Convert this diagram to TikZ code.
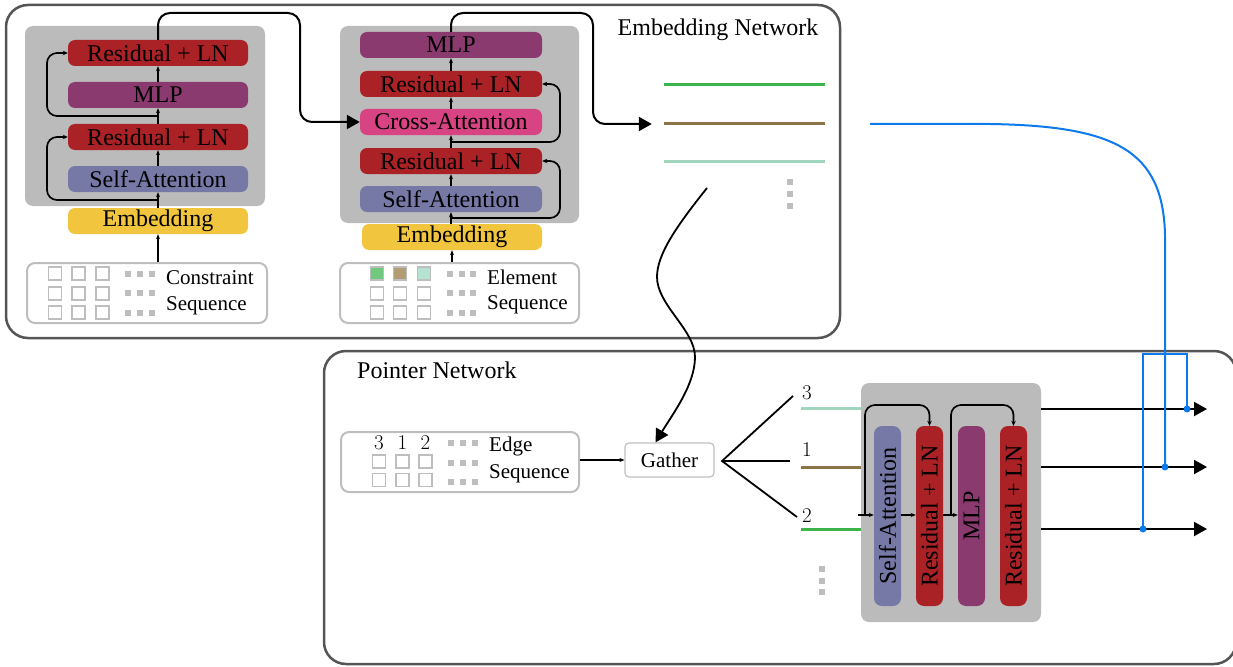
\documentclass[tikz,border=0pt]{standalone}
\usepackage{fontspec}
\usepackage{graphicx}
\setmainfont{Liberation Serif}
\usetikzlibrary{arrows.meta,calc}

\definecolor{resred}{RGB}{170,34,38}
\definecolor{mlppurple}{RGB}{139,58,111}
\definecolor{attblue}{RGB}{118,120,166}
\definecolor{embyellow}{RGB}{242,197,62}
\definecolor{crosspink}{RGB}{216,67,131}
\definecolor{blockgray}{RGB}{187,187,187}
\definecolor{framegray}{RGB}{85,85,85}
\definecolor{seqgray}{RGB}{190,190,190}
\definecolor{linkblue}{RGB}{12,121,236}
\definecolor{elgreen}{RGB}{60,180,75}
\definecolor{elbrown}{RGB}{140,116,72}
\definecolor{elmint}{RGB}{160,214,190}
\definecolor{sqgreen}{RGB}{111,202,125}
\definecolor{sqbrown}{RGB}{178,157,114}
\definecolor{sqmint}{RGB}{182,227,209}

\begin{document}
\begin{tikzpicture}[x=1pt,y=-1pt,
  lbl/.style={font=\fontsize{24}{26}\selectfont, inner sep=0},
  seqtxt/.style={font=\fontsize{21}{24}\selectfont, inner sep=0},
  digit/.style={font=\fontfamily{lmr}\fontsize{21}{24}\selectfont, inner sep=0},
  netframe/.style={draw=framegray, line width=2.5pt, rounded corners=22pt, inner sep=0},
  blockbg/.style={fill=blockgray, rounded corners=8pt, inner sep=0},
  layerbox/.style={rounded corners=7pt, inner sep=0, minimum width=180, minimum height=26, lbl},
  vlayerbox/.style={rounded corners=8pt, inner sep=0, minimum width=27, minimum height=180, lbl},
  seqframe/.style={draw=seqgray, line width=2pt, rounded corners=8pt, inner sep=0},
  cellsq/.style={draw=seqgray, line width=1.1pt, minimum size=13, inner sep=0},
  dotsq/.style={fill=seqgray, minimum size=6, inner sep=0},
  featline/.style={minimum width=161, minimum height=3, inner sep=0},
  thinlink/.style={line width=1.2pt, -{Stealth[length=5pt,width=4pt]}},
  skiplink/.style={line width=1.7pt, rounded corners=10pt, -{Stealth[length=5pt,width=4.5pt]}},
  flowlink/.style={line width=2pt, rounded corners=12pt, -{Triangle[length=13pt,width=14pt]}},
  bluelink/.style={draw=linkblue, line width=2pt}
]
\useasboundingbox (0,0) rectangle (1233,666);

% ---------- outer frames ----------
\node[netframe, minimum width=834, minimum height=333] (embnet) at (423,171.5) {};
\node[lbl] (embtitle) at (718,30) {Embedding Network};
\node[netframe, minimum width=912, minimum height=313] (ptrnet) at (780,507.5) {};
\node[lbl, anchor=west] (ptrtitle) at (357,370) {Pointer Network};

% ---------- constraint encoder ----------
\node[blockbg, minimum width=240, minimum height=180] (enc1) at (145,116) {};
\node[layerbox, fill=resred] (r1t) at (158,53) {Residual + LN};
\node[layerbox, fill=mlppurple] (mlp1) at (158,95) {MLP};
\node[layerbox, fill=resred] (r1b) at (158,137) {Residual + LN};
\node[layerbox, fill=attblue] (sa1) at (158,179) {Self-Attention};
\node[layerbox, fill=embyellow] (emb1) at (158,221) {Embedding};

\node[seqframe, minimum width=240, minimum height=60] (cseq) at (147,293) {};
\foreach \c/\x in {1/55,2/78.5,3/102.5}
  \foreach \r/\y in {1/273.5,2/293.5,3/312.5}
    \node[cellsq] (cc-\c-\r) at (\x,\y) {};
\foreach \c/\x in {1/128,2/140,3/152}
  \foreach \r/\y in {1/274,2/293,3/313}
    \node[dotsq] (cd-\c-\r) at (\x,\y) {};
\node[seqtxt, anchor=west] (ctxt1) at (166,278) {Constraint};
\node[seqtxt, anchor=west] (ctxt2) at (166,306) {Sequence};

\draw[thinlink] (emb1.south |- cseq.north) -- (emb1.south);
\draw[thinlink] (emb1.north) -- (sa1.south);
\draw[thinlink] (sa1.north) -- (r1b.south);
\draw[thinlink] (r1b.north) -- (mlp1.south);
\draw[thinlink] (mlp1.north) -- (r1t.south);
\coordinate (s1a) at ($(emb1.north)!0.5!(sa1.south)$);
\coordinate (s1b) at ($(r1b.north)!0.5!(mlp1.south)$);
\draw[skiplink] (s1a) -- (47,200) -- (47,137) -- (r1b.west);
\draw[skiplink] (s1b) -- (47,116) -- (47,53) -- (r1t.west);

% ---------- element encoder ----------
\node[blockbg, minimum width=239, minimum height=197] (enc2) at (459.5,124.5) {};
\node[layerbox, minimum width=182, fill=mlppurple] (mlp2) at (451,45) {MLP};
\node[layerbox, minimum width=182, fill=resred] (r2t) at (451,84) {Residual + LN};
\node[layerbox, minimum width=182, fill=crosspink] (ca) at (451,122) {Cross-Attention};
\node[layerbox, minimum width=182, fill=resred] (r2b) at (451,161) {Residual + LN};
\node[layerbox, minimum width=182, fill=attblue] (sa2) at (451,199) {Self-Attention};
\node[layerbox, fill=embyellow] (emb2) at (452,237) {Embedding};

\node[seqframe, minimum width=239, minimum height=60] (eseq) at (459.5,293) {};
\node[cellsq, fill=sqgreen] (ec-1-1) at (377,273.5) {};
\node[cellsq, fill=sqbrown] (ec-2-1) at (400,273.5) {};
\node[cellsq, fill=sqmint] (ec-3-1) at (424,273.5) {};
\foreach \c/\x in {1/377,2/400,3/424}
  \foreach \r/\y in {2/293.5,3/312.5}
    \node[cellsq] (ec-\c-\r) at (\x,\y) {};
\foreach \c/\x in {1/450,2/461.5,3/473}
  \foreach \r/\y in {1/274,2/293,3/313}
    \node[dotsq] (ed-\c-\r) at (\x,\y) {};
\node[seqtxt, anchor=west] (etxt1) at (487,277) {Element};
\node[seqtxt, anchor=west] (etxt2) at (487,305) {Sequence};

\draw[thinlink] (emb2.south |- eseq.north) -- (emb2.south);
\draw[thinlink] (sa2.south |- emb2.north) -- (sa2.south);
\draw[thinlink] (sa2.north) -- (r2b.south);
\draw[thinlink] (r2b.north) -- (ca.south);
\draw[thinlink] (ca.north) -- (r2t.south);
\draw[thinlink] (r2t.north) -- (mlp2.south);
\coordinate (s2a) at (451,218);
\coordinate (s2b) at (451,142);
\draw[skiplink] (s2a) -- (560,218) -- (560,161) -- (r2b.east);
\draw[skiplink] (s2b) -- (560,142) -- (560,84) -- (r2t.east);

% ---------- element features ----------
\node[featline, fill=elgreen] (fg) at (744.5,85) {};
\node[featline, fill=elbrown] (fb) at (744.5,124) {};
\node[featline, fill=elmint] (fm) at (744.5,161) {};
\foreach \i/\y in {1/182,2/194,3/206}
  \node[dotsq] (fd-\i) at (790,\y) {};

\draw[flowlink] (r1t.north) -- (158,13) -- (300,13) -- (300,122) -- (ca.west);
\draw[flowlink, shorten >=12pt] (mlp2.north) -- (451,13) -- (593,13) -- (593,124) -- (fb.west);

% ---------- edge sequence and gather ----------
\node[seqframe, minimum width=238, minimum height=60] (edseq) at (460,462) {};
\node[digit] (ed3) at (379,443) {3};
\node[digit] (ed1) at (402.5,443) {1};
\node[digit] (ed2) at (425.5,443) {2};
\foreach \c/\x in {1/379,2/402.5,3/425.5}
  \foreach \r/\y in {1/461.5,2/480}
    \node[cellsq] (gc-\c-\r) at (\x,\y) {};
\foreach \c/\x in {1/451,2/463,3/475}
  \foreach \r/\y in {1/443,2/463,3/482}
    \node[dotsq] (gd-\c-\r) at (\x,\y) {};
\node[seqtxt, anchor=west] (gtxt1) at (489,446) {Edge};
\node[seqtxt, anchor=west] (gtxt2) at (489,474) {Sequence};

\node[draw=seqgray, line width=1.2pt, rounded corners=4pt, minimum width=89,
      minimum height=34, seqtxt] (gather) at (669.5,460) {Gather};
\draw[thinlink] (edseq.east |- gather.west) -- (gather.west);

\coordinate (featout) at (707,188);
\draw[line width=1.8pt, -{Triangle[length=13pt,width=14pt]}]
  (featout) .. controls (675,228) and (657,255) .. (657,277)
  .. controls (657,305) and (695,330) .. (695,357)
  .. controls (695,385) and (672,415) .. ([xshift=-14]gather.north);

\coordinate (fan) at (722,461);
\coordinate (f3) at (793,396);
\coordinate (f1) at (790,461);
\coordinate (f2) at (797,517);
\draw[line width=1.8pt] (f3) -- (fan) -- (f2);
\draw[line width=1.8pt] (fan) -- (f1);

% ---------- gathered features ----------
\node[featline, minimum width=60, fill=elmint] (pm) at (831,408) {};
\node[featline, minimum width=60, fill=elbrown] (pb) at (831,467) {};
\node[featline, minimum width=60, fill=elgreen] (pg) at (831,529) {};
\node[digit] (pl3) at (807,393) {3};
\node[digit] (pl1) at (807,450) {1};
\node[digit] (pl2) at (807,516) {2};
\foreach \i/\y in {1/569,2/581,3/592}
  \node[dotsq] (pd-\i) at (822,\y) {};

% ---------- pointer transformer block ----------
\node[blockbg, minimum width=180, minimum height=239] (enc3) at (951,502.5) {};
\node[vlayerbox, fill=attblue] (sa3) at (887.5,516) {\rotatebox{90}{Self-Attention}};
\node[vlayerbox, fill=resred] (r3a) at (929.5,516) {\rotatebox{90}{Residual + LN}};
\node[vlayerbox, fill=mlppurple] (mlp3) at (971.5,516) {\rotatebox{90}{MLP}};
\node[vlayerbox, fill=resred] (r3b) at (1013.5,516) {\rotatebox{90}{Residual + LN}};

\coordinate (pin) at (858,515);
\draw[thinlink] (pin) -- (pin -| sa3.west);
\draw[thinlink] (sa3.east |- pin) -- (pin -| r3a.west);
\draw[thinlink] (r3a.east |- pin) -- (pin -| mlp3.west);
\coordinate (s3a) at (865,515);
\coordinate (s3b) at (951,515);
\draw[skiplink] (s3a) -- (865,405) -- (929.5,405) -- (r3a.north);
\draw[skiplink] (s3b) -- (951,405) -- (1013.5,405) -- (r3b.north);

\coordinate (o3) at (1207,409);
\coordinate (o1) at (1207,467);
\coordinate (o2) at (1207,529);
\draw[flowlink] (enc3.east |- o3) -- (o3);
\draw[flowlink] (enc3.east |- o1) -- (o1);
\draw[flowlink] (enc3.east |- o2) -- (o2);

% ---------- pointer links ----------
\coordinate (bsrc) at (870,124);
\coordinate (q1) at (1165,467);
\coordinate (q2) at (1143,529);
\coordinate (q3) at (1187,409);
\draw[bluelink] (bsrc) -- (990,124) .. controls (1115,126) and (1163,150) .. (1165,235) -- (q1);
\draw[bluelink] (q2) -- (1143,354) -- (1187,354) -- (q3);
\fill[linkblue] (q1) circle (3.5);
\fill[linkblue] (q2) circle (3.5);
\fill[linkblue] (q3) circle (3.5);
\end{tikzpicture}
\end{document}
